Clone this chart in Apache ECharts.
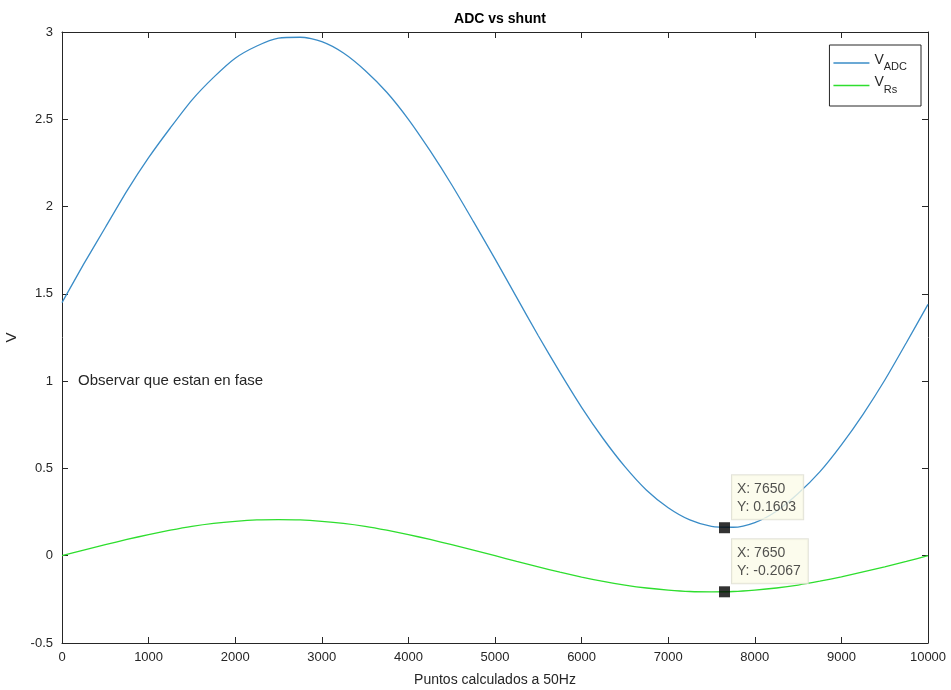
<!DOCTYPE html>
<html>
<head>
<meta charset="utf-8">
<title>ADC vs shunt</title>
<script src="https://cdn.jsdelivr.net/npm/echarts@6/dist/echarts.min.js"></script>
<style>
  html, body { margin: 0; padding: 0; background: #fff; }
  #main { width: 951px; height: 690px; }
</style>
</head>
<body>
<div id="main"></div>
<script>
// puntos (cada 250 muestras)
const xPoints = [0, 250, 500, 750, 1000, 1250, 1500, 1750, 2000, 2250, 2500,
  2750, 3000, 3250, 3500, 3750, 4000, 4250, 4500, 4750, 5000,
  5250, 5500, 5750, 6000, 6250, 6500, 6750, 7000, 7250, 7500,
  7750, 8000, 8250, 8500, 8750, 9000, 9250, 9500, 9750, 10000]
const vAdc = [1.45, 1.67, 1.88, 2.09, 2.28, 2.45, 2.61, 2.74, 2.85, 2.92, 2.965,
  2.97, 2.945, 2.88, 2.78, 2.655, 2.50, 2.32, 2.125, 1.915, 1.70,
  1.48, 1.26, 1.05, 0.85, 0.67, 0.51, 0.375, 0.275, 0.205, 0.168,
  0.163, 0.19, 0.255, 0.356, 0.48, 0.635, 0.81, 1.005, 1.22, 1.44]
const vRs = [0, 0.032, 0.063, 0.093, 0.121, 0.146, 0.168, 0.185, 0.197, 0.205, 0.207,
  0.205, 0.197, 0.185, 0.168, 0.146, 0.121, 0.093, 0.063, 0.032, 0,
  -0.033, -0.064, -0.094, -0.122, -0.147, -0.168, -0.185, -0.197, -0.205, -0.207,
  -0.205, -0.197, -0.185, -0.168, -0.146, -0.121, -0.093, -0.064, -0.033, 0]

// data tips
const tipX = 7650
const tipAdc = 0.1603
const tipRs = -0.2067

// anotacion
const noteText = 'Observar que estan en fase'
const noteX = 185
const noteY = 1

const xTicks = ['0', '1000', '2000', '3000', '4000', '5000', '6000', '7000', '8000', '9000', '10000']
const yTicks = ['-0.5', '0', '0.5', '1', '1.5', '2', '2.5', '3']

const axisColor = '#262626'
const font = 'Liberation Sans, Arial, Helvetica, sans-serif'

function pairs(xs, ys) {
  return xs.map((x, i) => [x, ys[i]])
}

function tipLabel(x, y) {
  return {
    show: true,
    position: [13, -47],
    formatter: 'X: ' + x + '\nY: ' + y,
    fontFamily: font,
    fontSize: 14,
    lineHeight: 18,
    color: '#262626',
    align: 'left',
    backgroundColor: '#fbfbe9',
    borderColor: '#dcdccf',
    borderWidth: 1,
    padding: [5, 7, 3, 5]
  }
}

const chart = echarts.init(document.getElementById('main'), null, { renderer: 'canvas' })

const baseAxis = {
  axisLine: { show: true, onZero: false, lineStyle: { color: axisColor, width: 1 } },
  axisTick: { show: true, inside: true, length: 6, lineStyle: { color: axisColor } },
  splitLine: { show: false }
}

chart.setOption({
  animation: false,
  backgroundColor: '#fff',
  title: {
    text: 'ADC vs shunt',
    left: 495,
    top: 7,
    textAlign: 'center',
    textStyle: { fontFamily: font, fontSize: 14, fontWeight: 'bold', color: '#000' }
  },
  legend: {
    orient: 'vertical',
    right: 30,
    top: 45,
    itemWidth: 36,
    itemHeight: 1.5,
    itemGap: 3,
    icon: 'rect',
    padding: [8, 14, 11, 4],
    borderColor: axisColor,
    borderWidth: 1,
    backgroundColor: '#fff',
    data: ['V_ADC', 'V_Rs'],
    formatter: function (name) {
      const parts = name.split('_')
      return '{v|' + parts[0] + '}{s|' + parts[1] + '}'
    },
    textStyle: {
      fontFamily: font,
      color: '#262626',
      rich: {
        v: { fontSize: 14, fontFamily: font, color: '#262626', padding: [0, 0, 6, 0] },
        s: { fontSize: 11, fontFamily: font, color: '#262626', padding: [8, 0, 0, 0] }
      }
    }
  },
  grid: { left: 62, right: 23, top: 32, bottom: 47, containLabel: false, outerBoundsMode: 'none' },
  xAxis: [
    Object.assign({}, baseAxis, {
      type: 'value',
      min: 0,
      max: 10000,
      interval: 1000,
      position: 'bottom',
      name: 'Puntos calculados a 50Hz',
      nameLocation: 'middle',
      nameGap: 30,
      nameTextStyle: { fontFamily: font, fontSize: 14, color: '#262626' },
      axisLabel: {
        fontFamily: font, fontSize: 13, color: '#262626', margin: 8,
        formatter: (v) => xTicks[Math.round(v / 1000)]
      }
    }),
    Object.assign({}, baseAxis, {
      type: 'value',
      min: 0,
      max: 10000,
      interval: 1000,
      position: 'top',
      axisLabel: { show: false }
    })
  ],
  yAxis: [
    Object.assign({}, baseAxis, {
      type: 'value',
      min: -0.5,
      max: 3,
      interval: 0.5,
      position: 'left',
      name: 'V',
      nameLocation: 'middle',
      nameGap: 38,
      nameTextStyle: { fontFamily: font, fontSize: 15, color: '#262626' },
      axisLabel: {
        fontFamily: font, fontSize: 13, color: '#262626', margin: 9,
        formatter: (v) => yTicks[Math.round((v + 0.5) / 0.5)]
      }
    }),
    Object.assign({}, baseAxis, {
      type: 'value',
      min: -0.5,
      max: 3,
      interval: 0.5,
      position: 'right',
      axisLabel: { show: false }
    })
  ],
  series: [
    {
      name: 'V_ADC',
      type: 'line',
      smooth: 0.25,
      showSymbol: false,
      color: '#3a8cc7',
      lineStyle: { width: 1.3, color: '#3a8cc7' },
      data: pairs(xPoints, vAdc),
      markPoint: {
        symbol: 'circle',
        symbolSize: 0,
        data: [{
          coord: [noteX, noteY],
          label: {
            show: true,
            position: 'right',
            distance: 0,
            formatter: noteText,
            fontFamily: font,
            fontSize: 15,
            color: '#262626'
          }
        }]
      }
    },
    {
      name: 'V_Rs',
      type: 'line',
      smooth: 0.25,
      showSymbol: false,
      color: '#2ede2e',
      lineStyle: { width: 1.3, color: '#2ede2e' },
      data: pairs(xPoints, vRs)
    },
    {
      name: 'tipAdc',
      type: 'scatter',
      symbol: 'rect',
      symbolSize: 11,
      itemStyle: { color: '#000' },
      label: tipLabel(tipX, tipAdc),
      data: [[tipX, tipAdc]],
      z: 5
    },
    {
      name: 'tipRs',
      type: 'scatter',
      symbol: 'rect',
      symbolSize: 11,
      itemStyle: { color: '#000' },
      label: tipLabel(tipX, tipRs),
      data: [[tipX, tipRs]],
      z: 5
    }
  ]
})
</script>
</body>
</html>
